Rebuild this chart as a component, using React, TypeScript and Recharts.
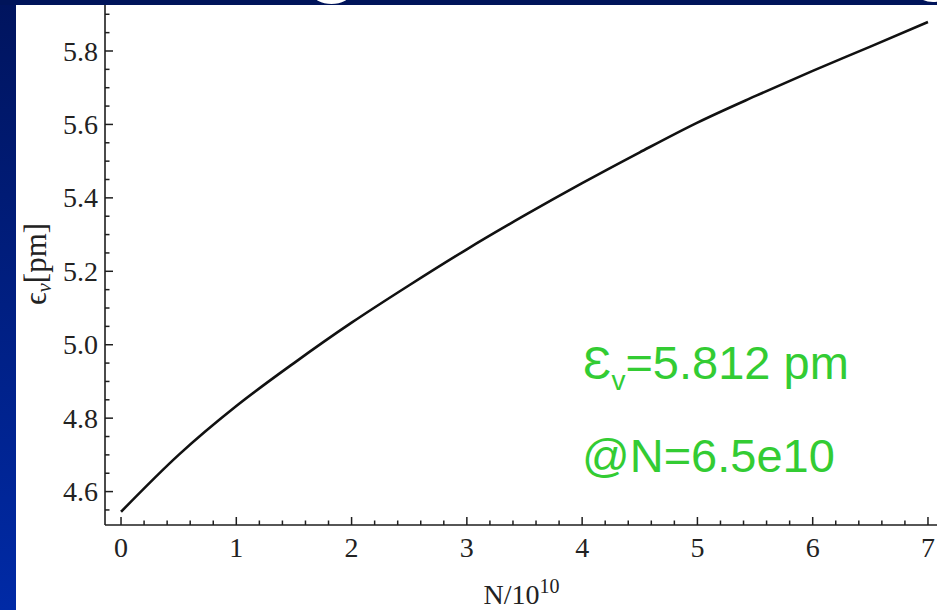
import React from "react";
import { LineChart, Line, XAxis, YAxis } from "recharts";

// beam emittance vs bunch population (N in units of 1e10)
const N_VALUES = [0, 0.5, 1, 1.5, 2, 2.5, 3, 3.5, 4, 4.5, 5, 5.5, 6, 6.5, 7];
const EMITTANCE = [
  4.545, 4.7, 4.833, 4.95, 5.06, 5.162, 5.26, 5.352, 5.44, 5.524, 5.605, 5.677, 5.746, 5.812, 5.879,
];

const X_TICKS = [
  0, 0.2, 0.4, 0.6, 0.8, 1, 1.2, 1.4, 1.6, 1.8, 2, 2.2, 2.4, 2.6, 2.8, 3, 3.2, 3.4, 3.6, 3.8, 4,
  4.2, 4.4, 4.6, 4.8, 5, 5.2, 5.4, 5.6, 5.8, 6, 6.2, 6.4, 6.6, 6.8, 7,
];
const X_LABELS = [0, 1, 2, 3, 4, 5, 6, 7];
const Y_TICKS = [
  4.55, 4.6, 4.65, 4.7, 4.75, 4.8, 4.85, 4.9, 4.95, 5.0, 5.05, 5.1, 5.15, 5.2, 5.25, 5.3, 5.35,
  5.4, 5.45, 5.5, 5.55, 5.6, 5.65, 5.7, 5.75, 5.8, 5.85, 5.9,
];
const Y_LABELS = [4.6, 4.8, 5.0, 5.2, 5.4, 5.6, 5.8];

const data = N_VALUES.map((n, i) => ({ n, eps: EMITTANCE[i] }));

const AXIS = "#1e1e1e";
const SERIF = "'Liberation Serif', 'DejaVu Serif', serif";
const SANS = "'Liberation Sans', Arial, sans-serif";
const GREEN = "#33cc33";

const isLabel = (list: number[], v: number) => list.some((l) => Math.abs(l - v) < 1e-6);

const BottomTick = (props: any) => {
  const { x, y, payload } = props;
  const major = isLabel(X_LABELS, payload.value);
  return (
    <g>
      <line x1={x} x2={x} y1={y} y2={y - (major ? 8 : 4.5)} stroke={AXIS} strokeWidth={1.5} />
      {major && (
        <text x={x} y={y + 32} textAnchor="middle" fontFamily={SERIF} fontSize={28} fill="#222">
          {payload.value}
        </text>
      )}
    </g>
  );
};

const TopTick = (props: any) => {
  const { x, y, payload } = props;
  const major = isLabel(X_LABELS, payload.value);
  return <line x1={x} x2={x} y1={y} y2={y + (major ? 9 : 5)} stroke={AXIS} strokeWidth={1.5} />;
};

const LeftTick = (props: any) => {
  const { x, y, payload } = props;
  const major = isLabel(Y_LABELS, payload.value);
  return (
    <g>
      <line x1={x} x2={x + (major ? 8 : 4.5)} y1={y} y2={y} stroke={AXIS} strokeWidth={1.5} />
      {major && (
        <text x={x - 7} y={y} dy="0.34em" textAnchor="end" fontFamily={SERIF} fontSize={28} fill="#222">
          {Number(payload.value).toFixed(1)}
        </text>
      )}
    </g>
  );
};

const XTitle = (props: any) => {
  const vb = props.viewBox;
  return (
    <text x={vb.x + vb.width / 2 - 3} y={vb.y + vb.height - 6} textAnchor="middle" fontFamily={SERIF} fontSize={28} fill="#222">
      N/10
      <tspan dy={-11} fontSize={20}>10</tspan>
    </text>
  );
};

const YTitle = () => {
  const cx = 46;
  const cy = 264;
  return (
    <text x={cx} y={cy} transform={`rotate(-90, ${cx}, ${cy})`} textAnchor="middle" fontFamily={SERIF} fontSize={31} fill="#222">
      ϵ
      <tspan dy={5} fontSize={21} fontStyle="italic">v</tspan>
      <tspan dy={-5}>[pm]</tspan>
    </text>
  );
};

export default function App() {
  return (
    <div style={{ position: "fixed", left: 0, top: 0, width: 937, height: 610, overflow: "hidden", background: "#fff" }}>
      <LineChart width={950} height={610} data={data} margin={{ top: 4, right: 6, bottom: 0, left: 0 }}>
        <XAxis
          xAxisId="bottom"
          dataKey="n"
          type="number"
          domain={[-0.139, 7.139]}
          allowDataOverflow
          ticks={X_TICKS}
          interval={0}
          tickSize={0}
          tickMargin={0}
          tickLine={false}
          tick={<BottomTick />}
          height={85}
          axisLine={{ stroke: AXIS, strokeWidth: 1.6 }}
          label={{ content: <XTitle /> }}
        />
        <XAxis
          xAxisId="top"
          orientation="top"
          dataKey="n"
          type="number"
          domain={[-0.139, 7.139]}
          allowDataOverflow
          ticks={X_TICKS}
          interval={0}
          tickSize={0}
          tickMargin={0}
          tickLine={false}
          tick={<TopTick />}
          height={0}
          axisLine={{ stroke: AXIS, strokeWidth: 1.6 }}
        />
        <YAxis
          type="number"
          domain={[4.509, 5.928]}
          allowDataOverflow
          ticks={Y_TICKS}
          interval={0}
          tickSize={0}
          tickMargin={0}
          tickLine={false}
          tick={<LeftTick />}
          width={105}
          axisLine={{ stroke: AXIS, strokeWidth: 1.6 }}
          label={{ content: <YTitle /> }}
        />
        <Line
          xAxisId="bottom"
          type="monotone"
          dataKey="eps"
          stroke="#111"
          strokeWidth={2.6}
          dot={false}
          isAnimationActive={false}
        />
      </LineChart>

      {/* annotation */}
      <svg width={937} height={610} style={{ position: "absolute", left: 0, top: 0, pointerEvents: "none" }}>
        <text x={583} y={379} fontFamily={SANS} fontSize={47} fill={GREEN}>
          Ɛ
          <tspan dy={11} fontSize={28}>v</tspan>
          <tspan dy={-11}>=5.812 pm</tspan>
        </text>
        <text x={582} y={472} fontFamily={SANS} fontSize={47} fill={GREEN}>
          @N=6.5e10
        </text>
      </svg>

      {/* slide background bits */}
      <div
        style={{
          position: "absolute",
          left: 0,
          top: 0,
          width: 16,
          height: 610,
          background: "linear-gradient(#00145e, #002aa6)",
        }}
      />
      <div style={{ position: "absolute", left: 0, top: 0, width: 937, height: 5, background: "#00145a", overflow: "hidden" }}>
        <div style={{ position: "absolute", left: 313, top: -16, width: 37, height: 20, borderRadius: "50%", background: "#fff" }} />
        <div style={{ position: "absolute", left: 918, top: -14, width: 30, height: 16, borderRadius: "50%", background: "#fff" }} />
      </div>
    </div>
  );
}
